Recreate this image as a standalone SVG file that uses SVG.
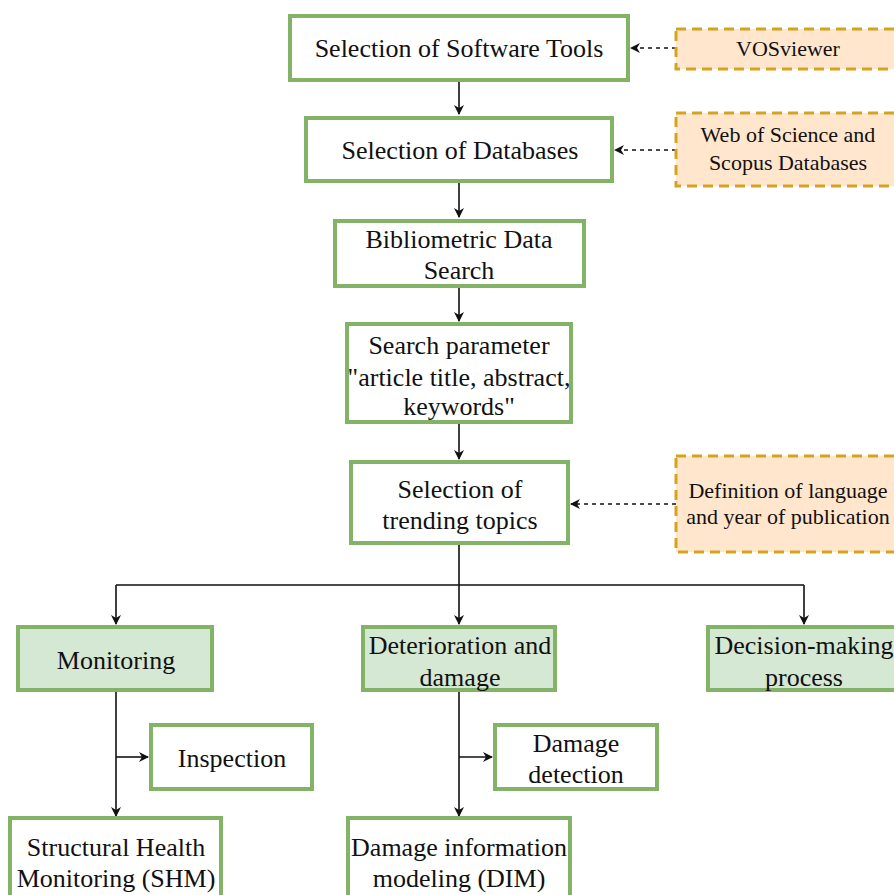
<svg xmlns="http://www.w3.org/2000/svg" width="894" height="895" viewBox="0 0 894 895">
<style>
.b{fill:#ffffff;stroke:#82b366;stroke-width:4}
.g{fill:#d5e8d4;stroke:#82b366;stroke-width:4}
.o{fill:#ffe6cc;stroke:#d6a31e;stroke-width:3;stroke-dasharray:10 6}
text{font-family:'Liberation Serif','Times New Roman',serif;font-size:26px;fill:#111;text-anchor:middle}
.s{font-size:22px}
.c{fill:none;stroke:#111;stroke-width:1.6}
.d{fill:none;stroke:#111;stroke-width:1.6;stroke-dasharray:4 4}
</style>
<defs>
<marker id="a" viewBox="0 0 10 10" refX="9" refY="5" markerWidth="10" markerHeight="10" markerUnits="userSpaceOnUse" orient="auto">
<path d="M0,0 L10,5 L0,10 L3,5 Z" fill="#111"/>
</marker>
</defs>
<rect width="894" height="895" fill="#fff"/>
<g id="connectors">
<path class="c" d="M459,80 V114" marker-end="url(#a)"/>
<path class="c" d="M459,181 V217" marker-end="url(#a)"/>
<path class="c" d="M459,286 V321" marker-end="url(#a)"/>
<path class="c" d="M459,422 V459" marker-end="url(#a)"/>
<path class="d" d="M676,48 H631" marker-end="url(#a)"/>
<path class="d" d="M676,150 H615" marker-end="url(#a)"/>
<path class="d" d="M676,504 H571" marker-end="url(#a)"/>
<path class="c" d="M459,543 V585 M116,585 H804"/>
<path class="c" d="M116,585 V624" marker-end="url(#a)"/>
<path class="c" d="M459,585 V624" marker-end="url(#a)"/>
<path class="c" d="M804,585 V624" marker-end="url(#a)"/>
<path class="c" d="M116,690 V816" marker-end="url(#a)"/>
<path class="c" d="M116,757 H148" marker-end="url(#a)"/>
<path class="c" d="M459,690 V816" marker-end="url(#a)"/>
<path class="c" d="M459,757 H492" marker-end="url(#a)"/>
</g>
<g id="n1"><rect class="b" x="290" y="16" width="338" height="64"/><text x="459" y="57">Selection of Software Tools</text></g>
<g id="n2"><rect class="b" x="306" y="118" width="306" height="63"/><text x="460" y="159">Selection of Databases</text></g>
<g id="n3"><rect class="b" x="335" y="221" width="249" height="65"/><text x="459" y="248">Bibliometric Data</text><text x="459" y="279">Search</text></g>
<g id="n4"><rect class="b" x="347" y="324" width="224" height="98"/><text x="459" y="354">Search parameter</text><text x="459" y="386">"article title, abstract,</text><text x="459" y="415">keywords"</text></g>
<g id="n5"><rect class="b" x="351" y="462" width="217" height="81"/><text x="460" y="498">Selection of</text><text x="460" y="529">trending topics</text></g>
<g id="o1"><rect class="o" x="676" y="29" width="230" height="40"/><text class="s" x="788" y="56">VOSviewer</text></g>
<g id="o2"><rect class="o" x="676" y="113" width="230" height="73"/><text class="s" x="788" y="142">Web of Science and</text><text class="s" x="788" y="170">Scopus Databases</text></g>
<g id="o3"><rect class="o" x="676" y="456" width="230" height="96"/><text class="s" x="788" y="498">Definition of language</text><text class="s" x="788" y="524">and year of publication</text></g>
<g id="m1"><rect class="g" x="18" y="627" width="194" height="63"/><text x="116" y="669">Monitoring</text></g>
<g id="m2"><rect class="g" x="363" y="627" width="192" height="63"/><text x="460" y="654">Deterioration and</text><text x="460" y="686">damage</text></g>
<g id="m3"><rect class="g" x="708" y="627" width="200" height="63"/><text x="804" y="654">Decision-making</text><text x="804" y="686">process</text></g>
<g id="i1"><rect class="b" x="151" y="725" width="161" height="64"/><text x="232" y="767">Inspection</text></g>
<g id="i2"><rect class="b" x="495" y="725" width="162" height="64"/><text x="576" y="752">Damage</text><text x="576" y="783">detection</text></g>
<g id="s1"><rect class="b" x="10" y="818" width="211" height="90"/><text x="116" y="856">Structural Health</text><text x="116" y="887">Monitoring (SHM)</text></g>
<g id="s2"><rect class="b" x="348" y="818" width="222" height="90"/><text x="459" y="856">Damage information</text><text x="459" y="887">modeling (DIM)</text></g>
</svg>
